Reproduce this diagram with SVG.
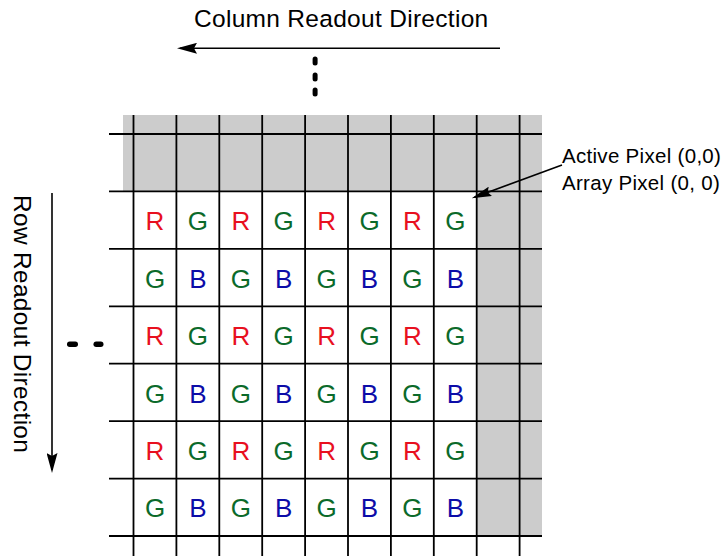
<svg xmlns="http://www.w3.org/2000/svg" width="722" height="556" viewBox="0 0 722 556">
<style>
text{font-family:"Liberation Sans",Arial,Helvetica,sans-serif;}
.lbl{font-size:24.5px;fill:#000;letter-spacing:0.3px;}
.ann{font-size:20.5px;fill:#000;letter-spacing:0.3px;}
.px{font-size:26px;text-anchor:middle;}
.R{fill:#e8101f;}
.G{fill:#0b6a2a;}
.B{fill:#0c0ca8;}
.grid line{stroke:#000;stroke-width:1.8;}
.gray{fill:#cccccc;}
.conn line{stroke:#000;stroke-width:1.6;fill:none;}
.dot{fill:#000;}
</style>
<defs>
<marker id="ah" viewBox="0 0 20 11" refX="17" refY="5.5" markerWidth="20" markerHeight="11" markerUnits="userSpaceOnUse" orient="auto">
<path d="M0,0 L20,5.5 L0,11 L3,5.5 z" fill="#000"/>
</marker>
<marker id="ah2" viewBox="0 0 20 10" refX="17" refY="5" markerWidth="20" markerHeight="10" markerUnits="userSpaceOnUse" orient="auto">
<path d="M0,0 L20,5 L0,10 L3,5 z" fill="#000"/>
</marker>
</defs>

<g id="array">
<rect class="gray" x="123" y="115" width="419" height="76.4"/>
<rect class="gray" x="476.7" y="191.4" width="65.3" height="344.6"/>
<g class="grid">
<line x1="133.5" y1="115" x2="133.5" y2="556"/>
<line x1="176.4" y1="115" x2="176.4" y2="556"/>
<line x1="219.3" y1="115" x2="219.3" y2="556"/>
<line x1="262.2" y1="115" x2="262.2" y2="556"/>
<line x1="305.1" y1="115" x2="305.1" y2="556"/>
<line x1="348" y1="115" x2="348" y2="556"/>
<line x1="390.9" y1="115" x2="390.9" y2="556"/>
<line x1="433.8" y1="115" x2="433.8" y2="556"/>
<line x1="476.7" y1="115" x2="476.7" y2="556"/>
<line x1="519.6" y1="115" x2="519.6" y2="556"/>
<line x1="109" y1="134" x2="542" y2="134"/>
<line x1="109" y1="191.4" x2="542" y2="191.4"/>
<line x1="109" y1="248.9" x2="542" y2="248.9"/>
<line x1="109" y1="306.3" x2="542" y2="306.3"/>
<line x1="109" y1="363.7" x2="542" y2="363.7"/>
<line x1="109" y1="421.2" x2="542" y2="421.2"/>
<line x1="109" y1="478.6" x2="542" y2="478.6"/>
<line x1="109" y1="536" x2="542" y2="536"/>
</g>
</g>

<g id="pixels">
<g id="px-1-1"><text class="px R" x="155" y="230">R</text></g>
<g id="px-1-2"><text class="px G" x="197.9" y="230">G</text></g>
<g id="px-1-3"><text class="px R" x="240.8" y="230">R</text></g>
<g id="px-1-4"><text class="px G" x="283.7" y="230">G</text></g>
<g id="px-1-5"><text class="px R" x="326.6" y="230">R</text></g>
<g id="px-1-6"><text class="px G" x="369.5" y="230">G</text></g>
<g id="px-1-7"><text class="px R" x="412.4" y="230">R</text></g>
<g id="px-1-8"><text class="px G" x="455.3" y="230">G</text></g>

<g id="px-2-1"><text class="px G" x="155" y="287.5">G</text></g>
<g id="px-2-2"><text class="px B" x="197.9" y="287.5">B</text></g>
<g id="px-2-3"><text class="px G" x="240.8" y="287.5">G</text></g>
<g id="px-2-4"><text class="px B" x="283.7" y="287.5">B</text></g>
<g id="px-2-5"><text class="px G" x="326.6" y="287.5">G</text></g>
<g id="px-2-6"><text class="px B" x="369.5" y="287.5">B</text></g>
<g id="px-2-7"><text class="px G" x="412.4" y="287.5">G</text></g>
<g id="px-2-8"><text class="px B" x="455.3" y="287.5">B</text></g>

<g id="px-3-1"><text class="px R" x="155" y="345">R</text></g>
<g id="px-3-2"><text class="px G" x="197.9" y="345">G</text></g>
<g id="px-3-3"><text class="px R" x="240.8" y="345">R</text></g>
<g id="px-3-4"><text class="px G" x="283.7" y="345">G</text></g>
<g id="px-3-5"><text class="px R" x="326.6" y="345">R</text></g>
<g id="px-3-6"><text class="px G" x="369.5" y="345">G</text></g>
<g id="px-3-7"><text class="px R" x="412.4" y="345">R</text></g>
<g id="px-3-8"><text class="px G" x="455.3" y="345">G</text></g>

<g id="px-4-1"><text class="px G" x="155" y="402.5">G</text></g>
<g id="px-4-2"><text class="px B" x="197.9" y="402.5">B</text></g>
<g id="px-4-3"><text class="px G" x="240.8" y="402.5">G</text></g>
<g id="px-4-4"><text class="px B" x="283.7" y="402.5">B</text></g>
<g id="px-4-5"><text class="px G" x="326.6" y="402.5">G</text></g>
<g id="px-4-6"><text class="px B" x="369.5" y="402.5">B</text></g>
<g id="px-4-7"><text class="px G" x="412.4" y="402.5">G</text></g>
<g id="px-4-8"><text class="px B" x="455.3" y="402.5">B</text></g>

<g id="px-5-1"><text class="px R" x="155" y="460">R</text></g>
<g id="px-5-2"><text class="px G" x="197.9" y="460">G</text></g>
<g id="px-5-3"><text class="px R" x="240.8" y="460">R</text></g>
<g id="px-5-4"><text class="px G" x="283.7" y="460">G</text></g>
<g id="px-5-5"><text class="px R" x="326.6" y="460">R</text></g>
<g id="px-5-6"><text class="px G" x="369.5" y="460">G</text></g>
<g id="px-5-7"><text class="px R" x="412.4" y="460">R</text></g>
<g id="px-5-8"><text class="px G" x="455.3" y="460">G</text></g>

<g id="px-6-1"><text class="px G" x="155" y="517">G</text></g>
<g id="px-6-2"><text class="px B" x="197.9" y="517">B</text></g>
<g id="px-6-3"><text class="px G" x="240.8" y="517">G</text></g>
<g id="px-6-4"><text class="px B" x="283.7" y="517">B</text></g>
<g id="px-6-5"><text class="px G" x="326.6" y="517">G</text></g>
<g id="px-6-6"><text class="px B" x="369.5" y="517">B</text></g>
<g id="px-6-7"><text class="px G" x="412.4" y="517">G</text></g>
<g id="px-6-8"><text class="px B" x="455.3" y="517">B</text></g>
</g>

<g id="col-label"><text class="lbl" x="194" y="27">Column Readout Direction</text></g>
<g id="row-label"><text class="lbl" transform="translate(14,195) rotate(90)">Row Readout Direction</text></g>
<g id="pixel-label">
<text class="ann" x="562" y="162.5">Active Pixel (0,0)</text>
<text class="ann" x="562" y="189.5">Array Pixel (0, 0)</text>
</g>

<g id="dots">
<rect class="dot" x="312.6" y="56.5" width="5" height="9" rx="2.5"/>
<rect class="dot" x="312.6" y="72.5" width="5" height="9" rx="2.5"/>
<rect class="dot" x="312.6" y="87.5" width="5" height="9" rx="2.5"/>
<rect class="dot" x="67" y="341.5" width="11" height="5.5" rx="2.7"/>
<rect class="dot" x="93.5" y="341.5" width="10" height="5.5" rx="2.7"/>
</g>

<g id="connectors" class="conn">
<line x1="500" y1="48.3" x2="180" y2="48.3" marker-end="url(#ah)"/>
<line x1="52" y1="193" x2="52" y2="470" marker-end="url(#ah)"/>
<line x1="562" y1="165" x2="474.5" y2="197.2" marker-end="url(#ah2)"/>
</g>
</svg>
